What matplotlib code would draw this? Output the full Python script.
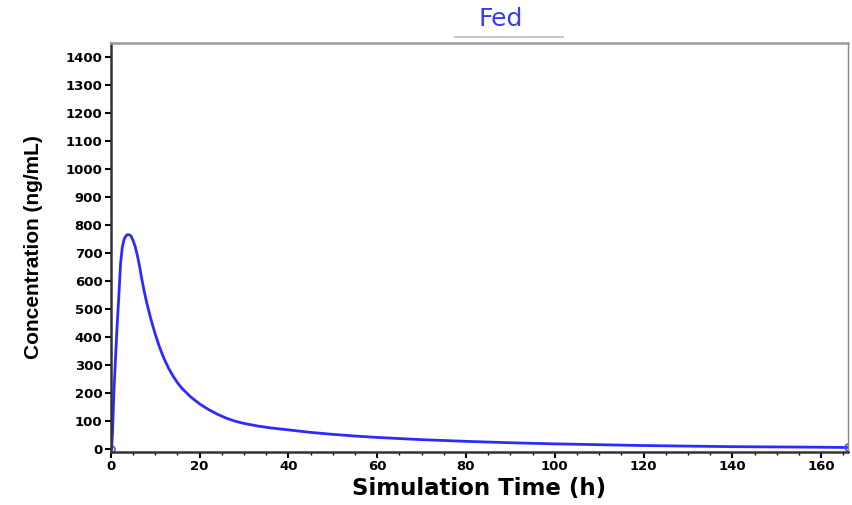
import numpy as np
import matplotlib
matplotlib.use("Agg")
from matplotlib import pyplot as plt
from matplotlib.ticker import MultipleLocator

plt.rcParams['font.family'] = ['DejaVu Sans']

# simulated plasma concentration, fed state
time_h = [0, 0.2, 0.4, 0.7, 1.0, 1.4, 1.8, 2.2, 2.6, 3.0, 3.4, 3.8, 4.2, 4.6,
          5.0, 5.5, 6.0, 6.5, 7.0, 7.5, 8, 9, 10, 11, 12, 13, 14, 15, 16,
          18, 20, 22, 24, 26, 28, 30, 33, 36, 40, 45, 50, 55, 60, 70, 80,
          90, 100, 110, 120, 130, 140, 150, 160, 166]
conc = [0, 0, 60, 200, 300, 430, 540, 660, 720, 748, 760, 765, 764, 759,
        745, 722, 690, 650, 605, 565, 528, 465, 410, 362, 322, 288, 260, 236, 216,
        185, 160, 140, 123, 109, 98, 90, 81, 74, 67, 58, 51, 45, 40, 32, 26,
        21, 17, 14, 11, 9, 7, 6, 5, 4]

x_ticks = np.arange(0, 161, 20)
y_ticks = np.arange(0, 1401, 100)

fig = plt.figure(figsize=(8.52, 5.05), dpi=100)
ax = fig.add_axes([0.130, 0.105, 0.865, 0.810])

ax.plot(time_h, conc, color="#2b2bff", lw=2)
ax.plot([time_h[0], time_h[-1]], [conc[0], conc[-1]], ls="none", marker="o",
        ms=5, mfc="none", mec="#5050ff", mew=1.2)

ax.set_xlim(0, 166)
ax.set_ylim(-12, 1450)
ax.set_xticks(x_ticks)
ax.set_yticks(y_ticks)
ax.xaxis.set_minor_locator(MultipleLocator(5))
ax.tick_params(axis="both", which="major", direction="out", length=4, width=1.5,
               labelsize=9.5, pad=2)
ax.tick_params(axis="x", which="minor", direction="out", length=2, width=1)
for lab in ax.get_xticklabels() + ax.get_yticklabels():
    lab.set_fontweight("bold")

for side in ["left", "bottom"]:
    ax.spines[side].set_color("#333333")
    ax.spines[side].set_linewidth(1.8)
ax.spines["top"].set_color("#9a9a9a")
ax.spines["top"].set_linewidth(1.8)
ax.spines["right"].set_color("#888888")
ax.spines["right"].set_linewidth(1.0)

ax.set_xlabel("Simulation Time (h)", fontsize=16.5, fontweight="bold", labelpad=3)
ax.set_ylabel("Concentration (ng/mL)", fontsize=15, fontweight="bold",
              family=['Liberation Sans'], labelpad=16)

fig.text(0.588, 0.963, "Fed", color="#3a3aff", fontsize=18, ha="center", va="center")
fig.add_artist(plt.Line2D([0.534, 0.661], [0.927, 0.927], color="#c8c8c8", lw=1.5,
                          transform=fig.transFigure))

fig.savefig("out.png", dpi=100)
